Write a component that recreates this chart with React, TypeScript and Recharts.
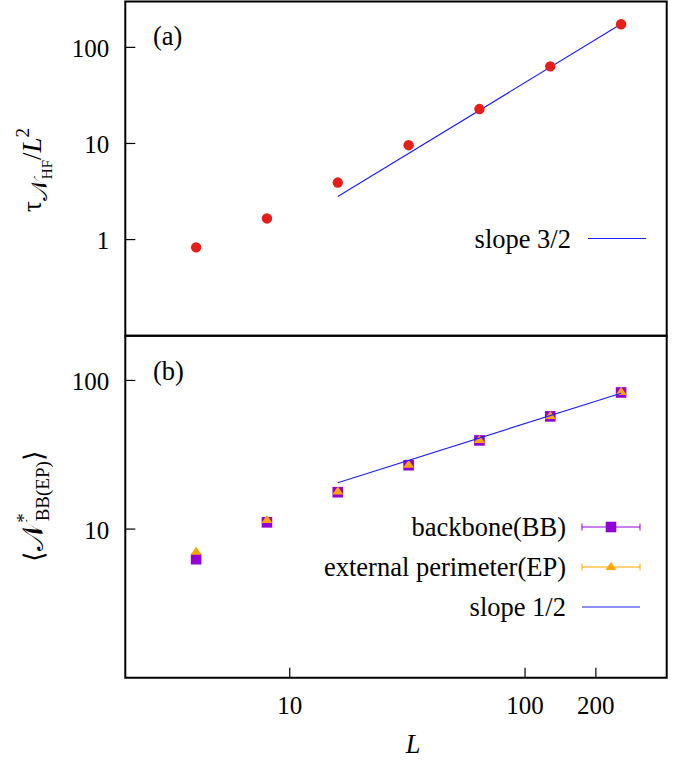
import { ComposedChart, Scatter, XAxis, YAxis, ReferenceArea, Legend } from 'recharts';

// system sizes L and measured values
const sizes = [4, 8, 16, 32, 64, 128, 256];
const tauHF = [0.83, 1.66, 3.92, 9.6, 22.8, 63.4, 174];
const backbone = [6.27, 11.1, 17.7, 26.9, 39.5, 57.3, 83];
const perimeter = [7.05, 11.5, 17.9, 27.1, 39.8, 57.6, 83.5];

// guide lines (end points)
const slopeALs = [16, 256];
const slopeAVals = [2.8, 175];
const slopeBLs = [16, 256];
const slopeBVals = [20.5, 82];

const xTicks = [10, 100, 200];
const yTicksA = [1, 10, 100];
const yTicksB = [10, 100];
const xDomain = [2, 400];
const yDomainA = [0.1, 300];
const yDomainB = [1, 200];

const FONT = "'Liberation Serif', 'Times New Roman', Times, serif";
const RED = '#e41e1a';
const PURPLE = '#9400d3';
const ORANGE = '#ffa500';
const BLUE = '#2020ff';
const W = 679;
const TXT = 26.5;

const toPts = (xs: number[], ys: number[]) => xs.map((L, i) => ({ L, v: ys[i] }));

function YTick({ x, y, payload }: any) {
  return (
    <g>
      <line x1={x} y1={y} x2={x + 10} y2={y} stroke="#000" strokeWidth={1.2} />
      <text x={x - 16} y={y + 9.5} textAnchor="end" fontFamily={FONT} fontSize={25} fill="#000">{payload.value}</text>
    </g>
  );
}

function XTick({ x, y, payload }: any) {
  return (
    <g>
      <line x1={x} y1={y} x2={x} y2={y - 10} stroke="#000" strokeWidth={1.2} />
      <text x={x} y={y + 36.5} textAnchor="middle" fontFamily={FONT} fontSize={25} fill="#000">{payload.value}</text>
    </g>
  );
}

const Circle = ({ cx, cy }: any) => <circle cx={cx} cy={cy} r={5.2} fill={RED} />;
const Square = ({ cx, cy }: any) => <rect x={cx - 5.3} y={cy - 5.3} width={10.6} height={10.6} fill={PURPLE} />;
const Triangle = ({ cx, cy }: any) => (
  <polygon points={`${cx},${cy - 5} ${cx - 5.5},${cy + 3} ${cx + 5.5},${cy + 3}`} fill={ORANGE} />
);
const NoShape = () => <g />;

function LegendA() {
  return (
    <svg width={W} height={340} style={{ display: 'block' }}>
      <text x={571} y={248} textAnchor="end" fontFamily={FONT} fontSize={TXT}>slope 3/2</text>
      <line x1={588} x2={646} y1={238.5} y2={238.5} stroke={BLUE} strokeWidth={1.2} />
    </svg>
  );
}

function ErrSample({ y, color, children }: any) {
  return (
    <g>
      <line x1={582} x2={640} y1={y} y2={y} stroke={color} strokeWidth={1} />
      <line x1={582} x2={582} y1={y - 3.5} y2={y + 3.5} stroke={color} strokeWidth={1} />
      <line x1={640} x2={640} y1={y - 3.5} y2={y + 3.5} stroke={color} strokeWidth={1} />
      {children}
    </g>
  );
}

function LegendB() {
  const rows = [197, 237, 277];
  return (
    <svg width={W} height={430} style={{ display: 'block' }}>
      <text x={566} y={rows[0] + 9} textAnchor="end" fontFamily={FONT} fontSize={TXT}>backbone(BB)</text>
      <ErrSample y={rows[0]} color={PURPLE}><Square cx={611} cy={rows[0]} /></ErrSample>
      <text x={566} y={rows[1] + 9} textAnchor="end" fontFamily={FONT} fontSize={TXT}>external perimeter(EP)</text>
      <ErrSample y={rows[1]} color={ORANGE}><Triangle cx={611} cy={rows[1]} /></ErrSample>
      <text x={566} y={rows[2] + 9} textAnchor="end" fontFamily={FONT} fontSize={TXT}>slope 1/2</text>
      <line x1={582} x2={640} y1={rows[2]} y2={rows[2]} stroke={BLUE} strokeWidth={1.2} />
    </svg>
  );
}

export default function App() {
  const tauData = toPts(sizes, tauHF);
  const bbData = toPts(sizes, backbone);
  const epData = toPts(sizes, perimeter);
  const slopeA = toPts(slopeALs, slopeAVals);
  const slopeB = toPts(slopeBLs, slopeBVals);

  return (
    <div style={{ position: 'absolute', left: 0, top: 0, width: W, height: 760, background: '#fff', fontFamily: FONT }}>
      {/* panel (a) */}
      <div style={{ position: 'absolute', left: 0, top: 0 }}>
        <ComposedChart width={W} height={370} margin={{ top: 1.5, right: 12.3, bottom: 4.3, left: 65.3 }}>
          <XAxis dataKey="L" type="number" scale="log" domain={xDomain} allowDataOverflow tick={false} tickLine={false} axisLine={false} height={30} />
          <YAxis dataKey="v" type="number" scale="log" domain={yDomainA} allowDataOverflow ticks={yTicksA} tick={<YTick />} tickSize={0} tickMargin={0} tickLine={false} axisLine={false} width={60} />
          <ReferenceArea x1={xDomain[0]} x2={xDomain[1]} y1={yDomainA[0]} y2={yDomainA[1]} fill="none" stroke="#000" strokeWidth={2} ifOverflow="visible" />
          <Scatter data={slopeA} line={{ stroke: BLUE, strokeWidth: 1.2 }} shape={<NoShape />} isAnimationActive={false} />
          <Scatter data={tauData} shape={<Circle />} isAnimationActive={false} />
          <Legend layout="vertical" align="center" verticalAlign="middle" wrapperStyle={{ left: 0, top: 0, width: W }} content={() => <LegendA />} />
        </ComposedChart>
      </div>

      {/* panel (b) */}
      <div style={{ position: 'absolute', left: 0, top: 330 }}>
        <ComposedChart width={W} height={430} margin={{ top: 5.7, right: 12.3, bottom: 52.3, left: 65.3 }}>
          <XAxis dataKey="L" type="number" scale="log" domain={xDomain} allowDataOverflow ticks={xTicks} tick={<XTick />} tickSize={0} tickMargin={0} tickLine={false} axisLine={false} height={30} />
          <YAxis dataKey="v" type="number" scale="log" domain={yDomainB} allowDataOverflow ticks={yTicksB} tick={<YTick />} tickSize={0} tickMargin={0} tickLine={false} axisLine={false} width={60} />
          <ReferenceArea x1={xDomain[0]} x2={xDomain[1]} y1={yDomainB[0]} y2={yDomainB[1]} fill="none" stroke="#000" strokeWidth={2} ifOverflow="visible" />
          <Scatter data={bbData} shape={<Square />} isAnimationActive={false} />
          <Scatter data={epData} shape={<Triangle />} isAnimationActive={false} />
          <Scatter data={slopeB} line={{ stroke: BLUE, strokeWidth: 1.2 }} shape={<NoShape />} isAnimationActive={false} />
          <Legend layout="vertical" align="center" verticalAlign="middle" wrapperStyle={{ left: 0, top: 0, width: W }} content={() => <LegendB />} />
        </ComposedChart>
      </div>

      {/* labels */}
      <svg width={W} height={760} style={{ position: 'absolute', left: 0, top: 0, pointerEvents: 'none' }}>
        <text x={153} y={45} fontFamily={FONT} fontSize={TXT}>(a)</text>
        <text x={153} y={380} fontFamily={FONT} fontSize={TXT}>(b)</text>
        <text x={413} y={753} textAnchor="middle" fontFamily={FONT} fontSize={TXT} fontStyle="italic">L</text>
        <text transform="translate(41,170) rotate(-90)" textAnchor="middle" fontFamily={FONT} fontSize={27}>
          <tspan>τ</tspan>
          <tspan fontSize={23} dy={6}>𝒩</tspan>
          <tspan fontSize={15} dy={5}>HF</tspan>
          <tspan dy={-11}>/</tspan>
          <tspan fontStyle="italic">L</tspan>
          <tspan fontSize={19} dy={-12}>2</tspan>
        </text>
        <text transform="translate(43,506) rotate(-90)" textAnchor="middle" fontFamily={FONT} fontSize={27}>
          <tspan>⟨</tspan>
          <tspan fontSize={29}>𝒩</tspan>
          <tspan fontSize={19} dy={-13}>*</tspan>
          <tspan fontSize={19} dy={19} dx={-8}>BB(EP)</tspan>
          <tspan dy={-6}>⟩</tspan>
        </text>
      </svg>
    </div>
  );
}
